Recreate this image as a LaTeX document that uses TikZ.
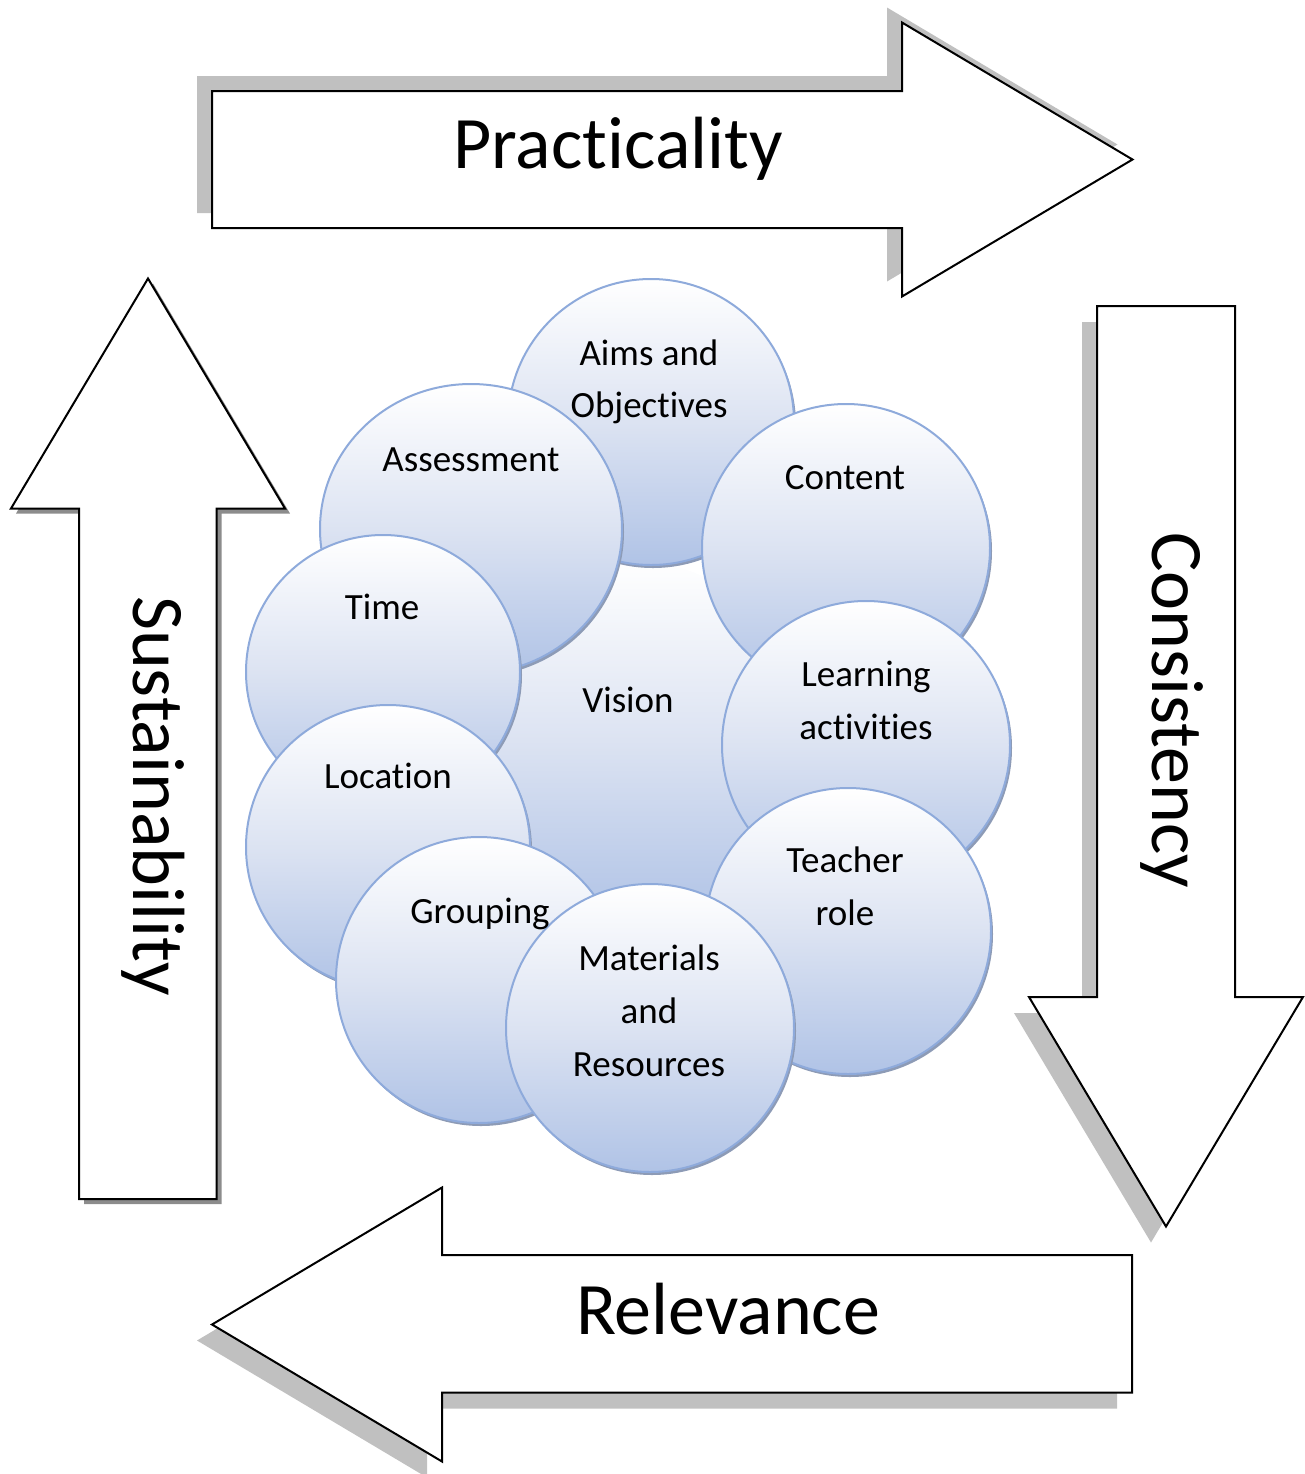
\documentclass[tikz,border=0pt]{standalone}
\usepackage{fontspec}
\setmainfont[Ligatures={NoCommon,NoRequired,NoContextual},Contextuals=NoAlternate]{Carlito}
\usetikzlibrary{shapes.geometric}
\definecolor{bubbleEdge}{HTML}{8EAADB}
\definecolor{bubbleBot}{HTML}{B0C3E6}
\definecolor{bubbleMid}{HTML}{DCE3F2}
\definecolor{bubbleShadow}{HTML}{8D9BB6}
\definecolor{arrowShadow}{HTML}{C0C0C0}
\definecolor{arrowShadowDark}{HTML}{8C8C8C}
\newcommand\mybubble[4]{%
  \fill[bshadow] (#2+2,#3+3) circle[radius=#4];
  \node[bubble, minimum size=#4pt] (#1) at (#2,#3) {};
}
\begin{document}
\begin{tikzpicture}[x=0.5pt,y=-0.5pt,
  bigarrow/.style={fill=white, draw=black, line width=1pt, line join=miter},
  ashadow/.style={fill=arrowShadow},
  ashadowdark/.style={fill=arrowShadowDark},
  bubble/.style={circle, inner sep=0pt, outer sep=0pt, draw=bubbleEdge, line width=1pt,
    top color=white, bottom color=bubbleBot, middle color=bubbleMid},
  bshadow/.style={fill=bubbleShadow},
  biglabel/.style={font=\fontsize{37}{44}\selectfont, inner sep=0pt, anchor=base},
  lbl/.style={font=\fontsize{18.5}{22}\selectfont, inner sep=0pt, anchor=base},
]
\useasboundingbox (0,0) rectangle (1305,1474);

% ---- Practicality (right) ----
\fill[ashadow, shift={(-15,-15)}] (212,91) -- (902,91) -- (902,22.5) -- (1132.5,159.5) -- (902,296.5) -- (902,228) -- (212,228) -- cycle;
\draw[bigarrow] (212,91) -- (902,91) -- (902,22.5) -- (1132.5,159.5) -- (902,296.5) -- (902,228) -- (212,228) -- cycle;

% ---- Consistency (down) ----
\fill[ashadow, shift={(-15,16)}] (1097,306) -- (1235,306) -- (1235,997) -- (1303,997) -- (1166,1226.5) -- (1029,997) -- (1097,997) -- cycle;
\draw[bigarrow] (1097,306) -- (1235,306) -- (1235,997) -- (1303,997) -- (1166,1226.5) -- (1029,997) -- (1097,997) -- cycle;

% ---- Relevance (left) ----
\fill[ashadow, shift={(-15,16)}] (1132,1255) -- (442,1255) -- (442,1187.5) -- (212,1324.5) -- (442,1461.5) -- (442,1392.5) -- (1132,1392.5) -- cycle;
\draw[bigarrow] (1132,1255) -- (442,1255) -- (442,1187.5) -- (212,1324.5) -- (442,1461.5) -- (442,1392.5) -- (1132,1392.5) -- cycle;

% ---- Sustainability (up) ----
\fill[ashadowdark, shift={(5,5)}] (79,1199) -- (79,508.5) -- (11,508.5) -- (148,278.5) -- (285,508.5) -- (216.5,508.5) -- (216.5,1199) -- cycle;
\draw[bigarrow] (79,1199) -- (79,508.5) -- (11,508.5) -- (148,278.5) -- (285,508.5) -- (216.5,508.5) -- (216.5,1199) -- cycle;

\node[biglabel] (practLabel) at (618,168.5) {Practicality};
\node[biglabel] (relLabel) at (728,1334) {Relevance};
\node[biglabel, rotate=-90] (consLabel) at (1152,710) {Consistency};
\node[biglabel, rotate=-90] (sustLabel) at (133,796) {Sustainability};

% ---- circles ----
\node[bubble, draw=none, minimum size=180pt] (vision) at (628,740) {};
\mybubble{aims}{651}{422}{143}
\fill[bshadow] (473,532) ellipse[x radius=151, y radius=145];
\node[bubble, ellipse, minimum width=151pt, minimum height=145pt] (assess) at (471,529) {};
\mybubble{time}{383}{672}{137}
\mybubble{location}{388}{847}{142}
\mybubble{grouping}{479}{980}{143}
\mybubble{content}{846}{548}{144}
\mybubble{learning}{866}{745}{144}
\mybubble{teacher}{848}{931}{143}
\mybubble{materials}{650}{1028}{144}

% ---- circle labels ----
\node[lbl] (visionT) at (628,712) {Vision};
\node[lbl] (aimsT1) at (649,365) {Aims and};
\node[lbl] (aimsT2) at (649,417) {Objectives};
\node[lbl] (assessT) at (471,471) {Assessment};
\node[lbl] (timeT) at (382,619) {Time};
\node[lbl] (locationT) at (388,788) {Location};
\node[lbl] (groupingT) at (480,923) {Grouping};
\node[lbl] (contentT) at (845,489) {Content};
\node[lbl] (learningT1) at (866,686) {Learning};
\node[lbl] (learningT2) at (866,739) {activities};
\node[lbl] (teacherT1) at (845,872) {Teacher};
\node[lbl] (teacherT2) at (845,925) {role};
\node[lbl] (materialsT1) at (649,970) {Materials};
\node[lbl] (materialsT2) at (649,1023) {and};
\node[lbl] (materialsT3) at (649,1076) {Resources};
\end{tikzpicture}
\end{document}
